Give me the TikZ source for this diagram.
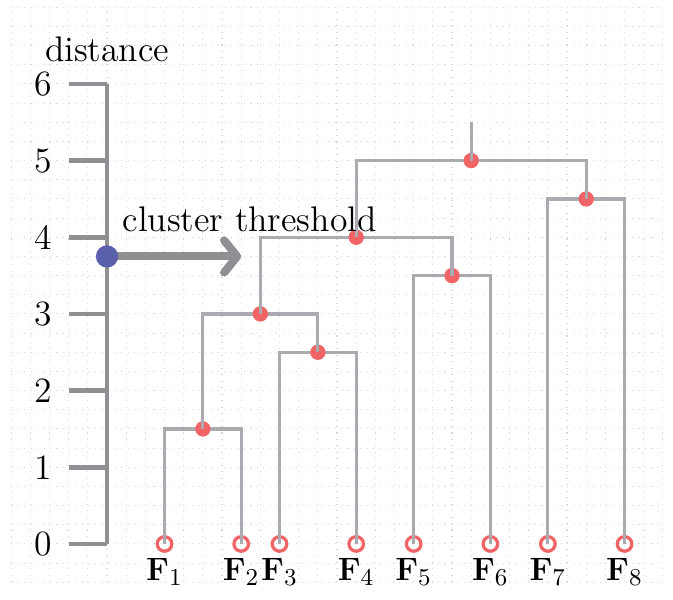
\documentclass[tikz,border=0pt]{standalone}
\usetikzlibrary{arrows.meta}
\definecolor{axisgray}{HTML}{8F8F94}
\definecolor{linkgray}{HTML}{AAAAB0}
\definecolor{dotred}{HTML}{F06466}
\definecolor{dotblue}{HTML}{5A60AC}
\definecolor{gridgray}{HTML}{D8D8D8}
\newcommand{\picfont}{\fontsize{13.2}{16}\selectfont}
\tikzset{
  bggrid/.style={draw=gridgray, dotted, line width=0.4pt},
  axisline/.style={draw=axisgray, line width=1.75pt},
  link/.style={draw=linkgray, line width=1.2pt},
  merge/.style={circle, fill=dotred, inner sep=0pt, minimum size=0.2cm},
  leaf/.style={circle, draw=dotred, line width=1.2pt, inner sep=0pt, minimum size=0.19cm},
  thresh/.style={circle, fill=dotblue, inner sep=0pt, minimum size=0.29cm},
  cutarrow/.style={draw=axisgray, line width=3pt, line cap=round,
    -{Straight Barb[round, length=0.17cm, width=0.42cm]}},
  leaflabel/.style={anchor=north, inner sep=0pt, font=\picfont}
}
\begin{document}
\begin{tikzpicture}
\useasboundingbox (-1.396,-0.730) rectangle (7.382,7.095);
\draw[bggrid] (-1.25,-0.5) grid[step=0.25] (7.25,7);

%Axis
\draw[axisline] (0,0) -- (0,6);
\foreach \d in {0,...,6}{
  \draw[axisline] (-0.5,\d) -- (0,\d);
  \node[anchor=east, font=\picfont] (t\d) at (-0.6,\d) {\d};
}
\node[anchor=base, font=\picfont] (dist) at (0,6.29) {distance};

%Leaves
\foreach \i/\x in {1/0.75,2/1.75,3/2.25,4/3.25,5/4,6/5,7/5.75,8/6.75}{
  \node[leaf] (f\i) at (\x,0) {};
  \node[leaflabel] (l\i) at (\x,-0.18) {$\mathbf{F}_{\i}$};
}

%Merge points
\coordinate (m12) at (1.25,1.5);
\coordinate (m34) at (2.75,2.5);
\coordinate (m1234) at (2,3);
\coordinate (m56) at (4.5,3.5);
\coordinate (m16) at (3.25,4);
\coordinate (m78) at (6.25,4.5);
\coordinate (m18) at (4.75,5);
\coordinate (top) at (4.75,5.5);

%Depth 1
\draw[link] (f1.center) |- (m12) -| (f2.center);
\node[merge] (d12) at (m12) {};
\draw[link] (f3.center) |- (m34) -| (f4.center);
\node[merge] (d34) at (m34) {};

%Depth 2
\draw[link] (d12.center) |- (m1234) -| (d34.center);
\node[merge] (d1234) at (m1234) {};
\draw[link] (f5.center) |- (m56) -| (f6.center);
\node[merge] (d56) at (m56) {};

%Depth 3
\draw[link] (d1234.center) |- (m16) -| (d56.center);
\node[merge] (d16) at (m16) {};
\draw[link] (f7.center) |- (m78) -| (f8.center);
\node[merge] (d78) at (m78) {};

%Root
\draw[link] (d16.center) |- (m18) -| (d78.center);
\node[merge] (d18) at (m18) {};
\draw[link] (d18.center) -- (top);

%Threshold
\coordinate (cutpt) at (0,3.75);
\coordinate (cutend) at (1.75,3.75);
\draw[cutarrow] (cutpt) -- (cutend);
\node[thresh] (cut) at (cutpt) {};
\node[anchor=base west, font=\picfont] (cutlabel) at (0.08,4.07) {cluster threshold};

\end{tikzpicture}
\end{document}
